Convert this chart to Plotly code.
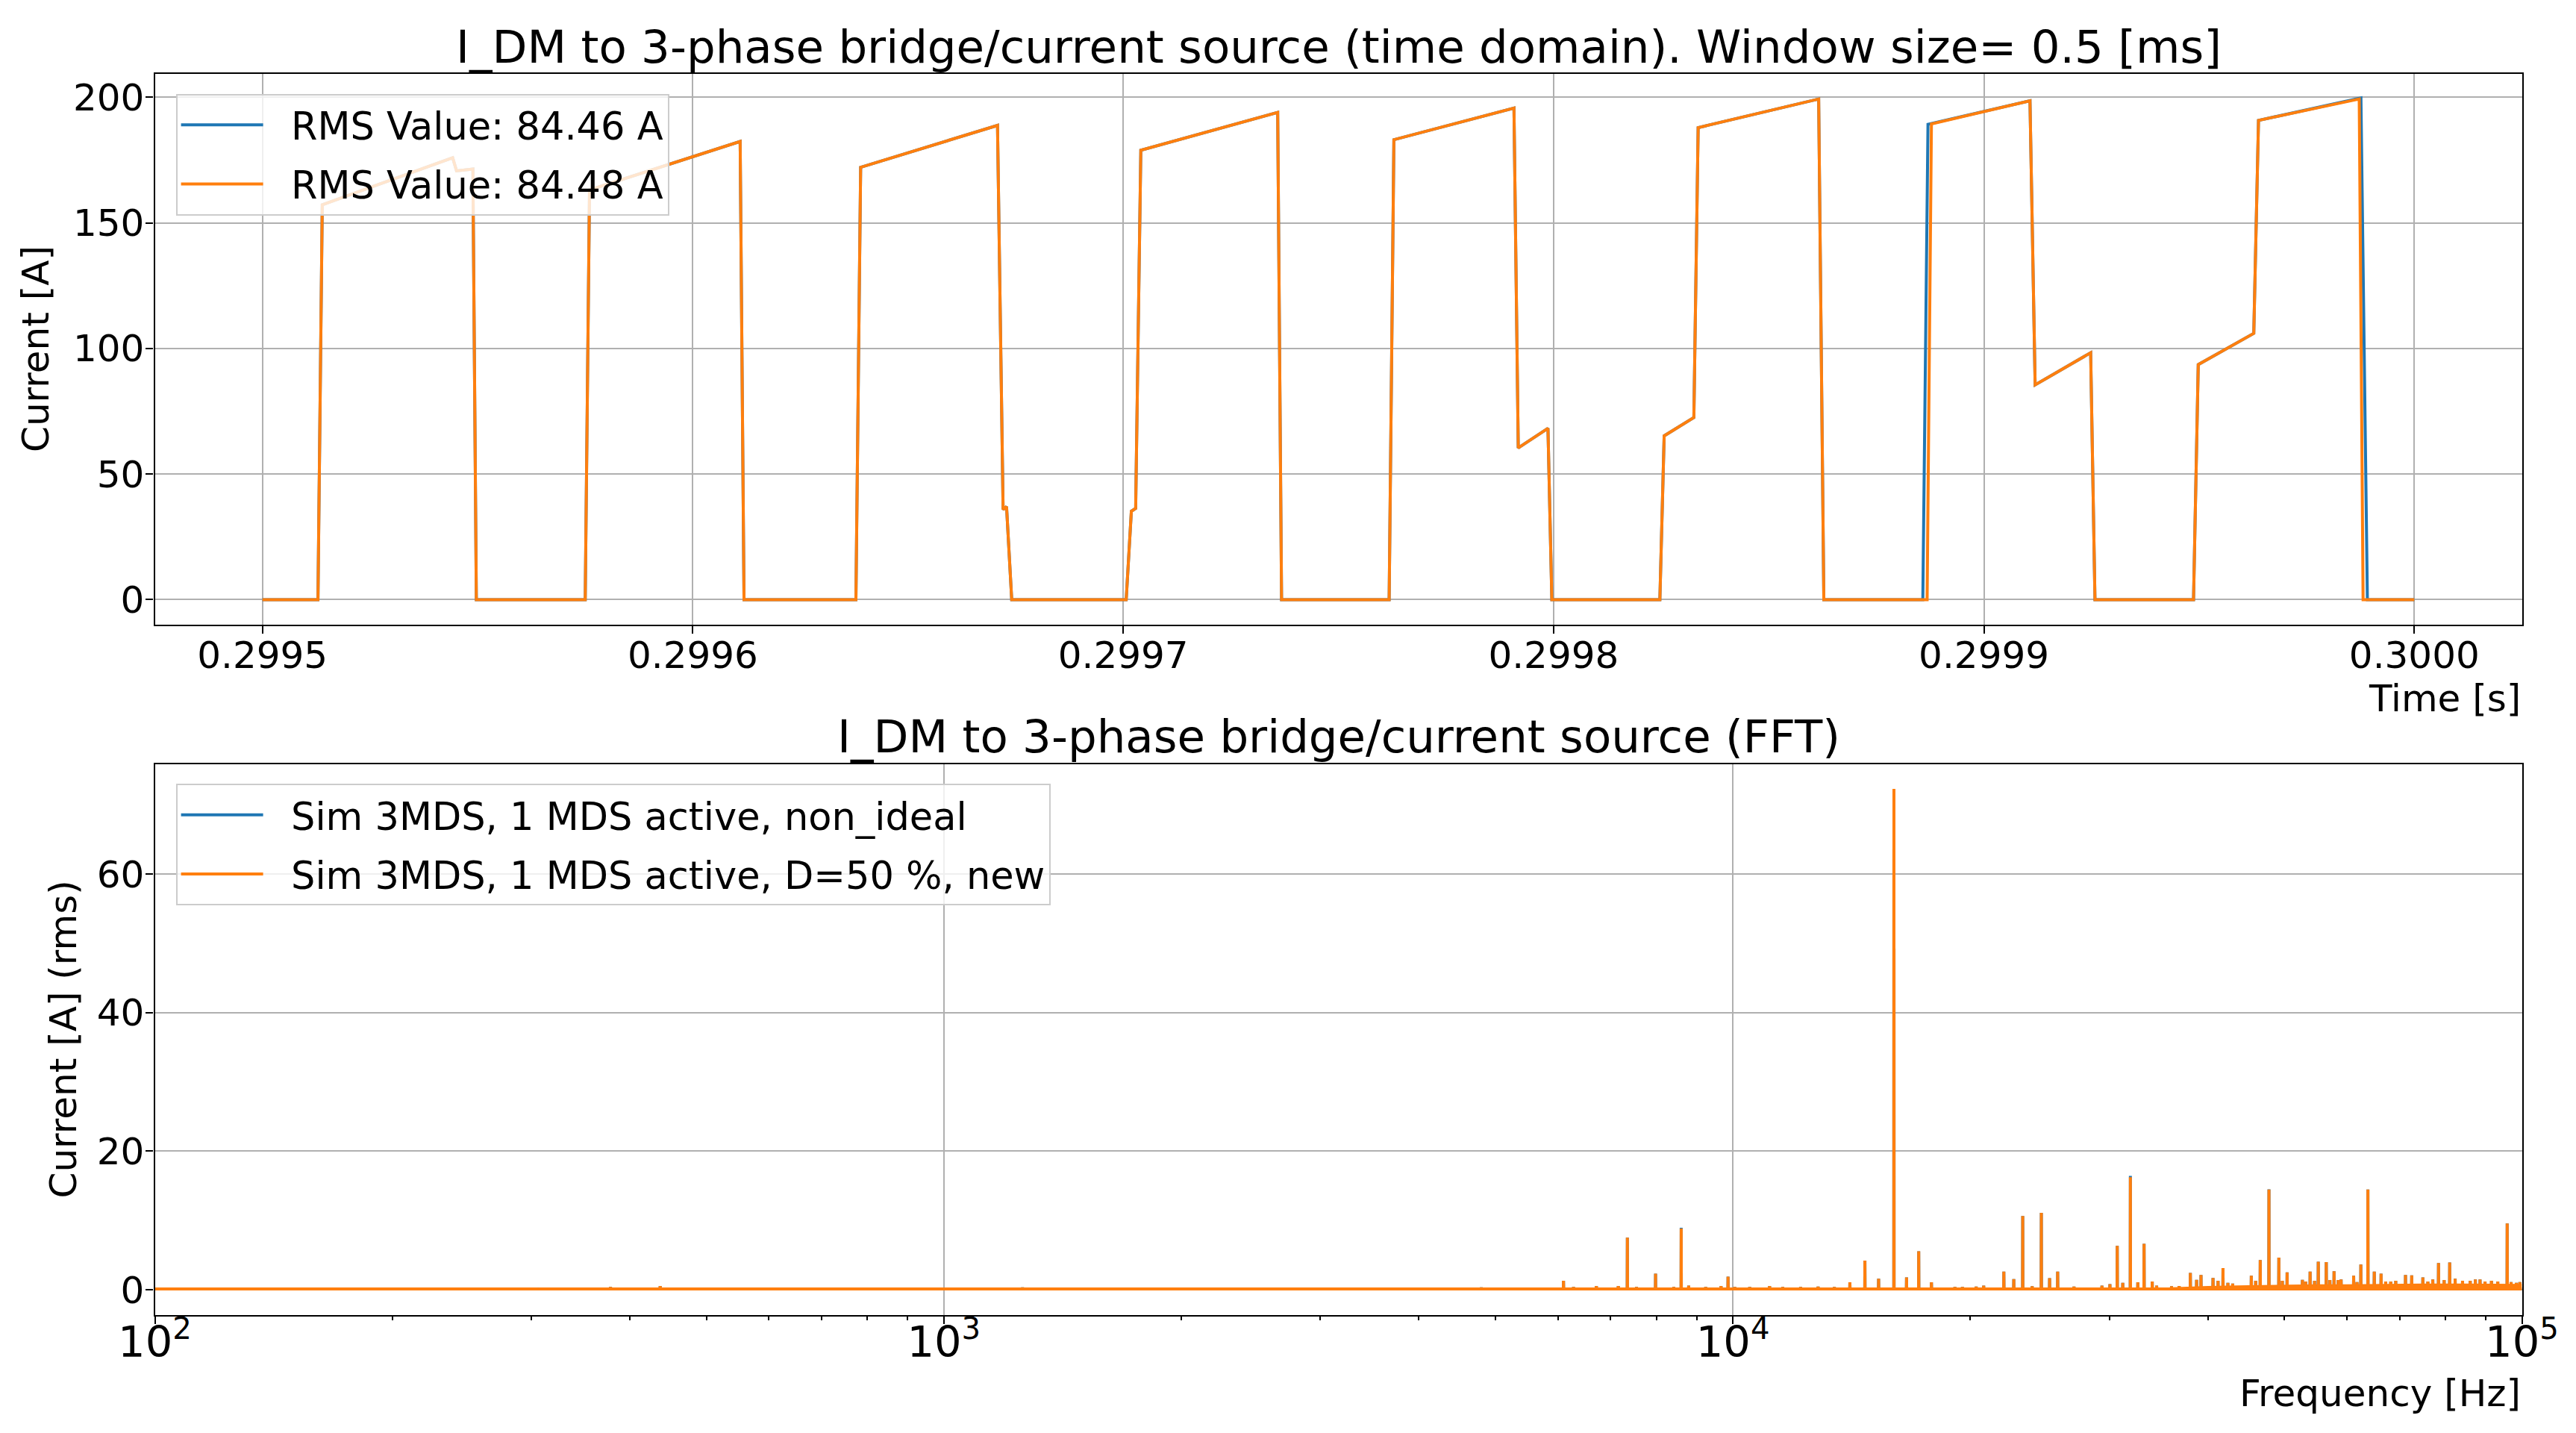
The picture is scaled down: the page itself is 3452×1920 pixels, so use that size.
import plotly.graph_objects as go

# ---------------- time-domain data ----------------
t_new_s = [0.2995000, 0.2995129, 0.2995139, 0.2995442, 0.2995451, 0.2995489, 0.2995497,
           0.2995750, 0.2995760, 0.2996110, 0.2996119,
           0.2996379, 0.2996390, 0.2996708, 0.2996721, 0.2996729, 0.2996741,
           0.2997007, 0.2997019, 0.2997029, 0.2997041, 0.2997359, 0.2997368,
           0.2997618, 0.2997629, 0.2997908, 0.2997918, 0.2997987, 0.2997996,
           0.2998247, 0.2998257, 0.2998326, 0.2998336, 0.2998616, 0.2998628,
           0.2998868, 0.2998878, 0.2999107, 0.2999119, 0.2999248, 0.2999258,
           0.2999487, 0.2999498, 0.2999627, 0.2999638, 0.2999872, 0.2999881,
           0.3000000]
i_new_a = [0, 0, 157.2, 175.9, 170.7, 171.4, 0,
           0, 163.1, 182.4, 0,
           0, 172.1, 188.8, 35.9, 37.0, 0,
           0, 35.2, 36.3, 178.9, 194.0, 0,
           0, 183.1, 195.7, 60.4, 68.2, 0,
           0, 65.2, 72.5, 187.9, 199.3, 0,
           0, 189.4, 198.6, 85.5, 98.3, 0,
           0, 93.6, 106.0, 190.8, 199.3, 0,
           0]

t_nonideal_s = [0.2995000, 0.2995129, 0.2995139, 0.2995442, 0.2995451, 0.2995489, 0.2995497,
                0.2995750, 0.2995760, 0.2996110, 0.2996119,
                0.2996379, 0.2996390, 0.2996708, 0.2996721, 0.2996729, 0.2996741,
                0.2997007, 0.2997019, 0.2997029, 0.2997041, 0.2997359, 0.2997368,
                0.2997618, 0.2997629, 0.2997908, 0.2997918, 0.2997987, 0.2997996,
                0.2998247, 0.2998257, 0.2998326, 0.2998336, 0.2998616, 0.2998628,
                0.2998858, 0.2998870, 0.2999107, 0.2999119, 0.2999248, 0.2999258,
                0.2999487, 0.2999498, 0.2999627, 0.2999638, 0.2999876, 0.2999891,
                0.3000000]
i_nonideal_a = [0, 0, 157.2, 175.9, 170.7, 171.4, 0,
                0, 163.1, 182.4, 0,
                0, 172.1, 188.8, 35.9, 37.0, 0,
                0, 35.2, 36.3, 178.9, 194.0, 0,
                0, 183.1, 195.7, 60.4, 68.2, 0,
                0, 65.2, 72.5, 187.9, 199.3, 0,
                0, 189.2, 198.6, 85.5, 98.3, 0,
                0, 93.6, 106.0, 190.8, 199.7, 0,
                0]

legend_time = ["RMS Value: 84.46 A", "RMS Value: 84.48 A"]

# ---------------- FFT data ----------------
spike_freq_hz = [306, 378, 437, 1258, 1323, 2127, 2566, 3133, 3784, 4238, 4799,
                 6100, 6281, 6714, 7158, 7350, 7548, 7980, 8416, 8600, 8790, 9238, 9660, 9860,
                 10055, 10503, 11130, 11566, 12186, 12823, 13446, 14070, 14700, 15300, 16000,
                 16600, 17200, 17850, 19117, 19540, 20340, 20790, 22050, 22700, 23300, 23950,
                 24600, 25200, 25800, 27060, 29360, 30050, 30700, 31200, 31900, 32600, 33200,
                 34000, 34440, 35970, 36780, 38000, 38700, 39200, 40600, 41200, 41800, 42400,
                 43000, 45400, 45980, 46600, 47800, 49200, 49700, 50400, 52700, 53200, 53900,
                 54600, 55200, 56500, 57100, 57800, 58500, 59000, 61200, 61800, 62500, 63800,
                 65000, 66300, 67200, 68200, 69200, 71200, 72500, 74900, 76000, 77100, 78400,
                 79700, 81000, 82300, 84100, 86000, 87300, 88500, 89800, 91500, 93200, 95800,
                 96900, 98400, 99400]
spike_amp_new = [0.25, 0.40, 0.55, 0.35, 0.30, 0.30, 0.30, 0.30, 0.30, 0.30, 0.35,
                 1.31, 0.40, 0.55, 0.55, 7.53, 0.40, 2.32, 0.40, 8.85, 0.60, 0.40, 0.55, 1.89,
                 0.40, 0.40, 0.55, 0.40, 0.40, 0.45, 0.40, 1.07, 4.22, 1.60, 72.3,
                 1.78, 5.55, 1.07, 0.40, 0.40, 0.45, 0.60, 2.61, 1.53, 10.65, 0.50,
                 11.10, 1.67, 2.61, 0.45, 0.60, 0.80, 6.34, 1.00, 16.25, 1.07, 6.63,
                 1.18, 0.60, 0.50, 0.55, 2.43, 1.43, 2.14, 1.71, 1.30, 3.14, 1.00,
                 0.90, 2.03, 1.30, 4.30, 14.46, 4.65, 1.30, 2.50, 1.43, 1.20, 2.61,
                 1.30, 4.04, 4.00, 1.40, 2.68, 1.40, 1.50, 2.03, 1.10, 3.65, 14.46,
                 2.61, 2.33, 1.20, 1.20, 1.30, 2.14, 2.07, 1.78, 1.20, 1.50, 3.87,
                 1.40, 3.94, 1.60, 1.30, 1.30, 1.50, 1.50, 1.20, 1.30, 1.20, 9.58,
                 1.10, 1.00, 1.10]
spike_amp_nonideal = [0.25, 0.40, 0.55, 0.35, 0.30, 0.30, 0.30, 0.30, 0.30, 0.30, 0.35,
                      1.31, 0.40, 0.55, 0.55, 7.53, 0.40, 2.32, 0.40, 8.95, 0.60, 0.40, 0.55, 1.89,
                      0.40, 0.40, 0.55, 0.40, 0.40, 0.45, 0.40, 1.07, 4.22, 1.60, 72.3,
                      1.78, 5.55, 1.07, 0.40, 0.40, 0.45, 0.60, 2.61, 1.53, 10.65, 0.50,
                      11.10, 1.67, 2.61, 0.45, 0.60, 0.80, 6.34, 1.00, 16.45, 1.07, 6.63,
                      1.18, 0.60, 0.50, 0.55, 2.43, 1.43, 2.14, 1.71, 1.30, 3.14, 1.00,
                      0.90, 2.03, 1.30, 4.30, 14.50, 4.65, 1.30, 2.50, 1.43, 1.20, 2.61,
                      1.30, 4.04, 4.00, 1.40, 2.68, 1.40, 1.50, 2.03, 1.10, 3.65, 14.46,
                      2.61, 2.33, 1.20, 1.20, 1.30, 2.14, 2.07, 1.78, 1.20, 1.50, 3.87,
                      1.40, 3.94, 1.60, 1.30, 1.30, 1.50, 1.50, 1.20, 1.30, 1.20, 9.58,
                      1.10, 1.00, 1.10]
fft_floor_a = 0.12
band_freq_hz = [36000, 40000, 45000, 50000, 55000, 60000, 65000, 70000, 75000, 80000,
                85000, 90000, 95000, 100000]
band_amp_a = [0.35, 0.55, 0.65, 0.75, 0.8, 0.8, 0.85, 0.9, 0.9, 0.9, 0.9, 0.9, 0.85, 0.85]
legend_fft = ["Sim 3MDS, 1 MDS active, non_ideal", "Sim 3MDS, 1 MDS active, D=50 %, new"]

# ---------------- styling ----------------
W, H = 3452, 1920
BLUE, ORANGE = "#1f77b4", "#ff7f0e"
FONT = "DejaVu Sans"
LW = 4
X0, X1 = 207.5 / W, 3379.5 / W
Y_TOP = [1 - 837 / H, 1 - 99 / H]
Y_BOT = [1 - 1761.5 / H, 1 - 1023.5 / H]
GAP = "\u00a0\u00a0"  # visual gap between legend line and label


def spectrum(freqs, amps, floor):
    xs, ys = [100.0], [floor]
    for f, a in zip(freqs, amps):
        xs += [f * 0.9996, f, f * 1.0004]
        ys += [floor, a, floor]
    xs.append(100000.0)
    ys.append(floor)
    return xs, ys


fig = go.Figure()
fig.add_trace(go.Scatter(x=t_nonideal_s, y=i_nonideal_a, mode="lines", name=GAP + legend_time[0],
                         line=dict(color=BLUE, width=LW), xaxis="x", yaxis="y",
                         legend="legend", legendgroup="a"))
fig.add_trace(go.Scatter(x=t_new_s, y=i_new_a, mode="lines", name=GAP + legend_time[1],
                         line=dict(color=ORANGE, width=LW), xaxis="x", yaxis="y",
                         legend="legend", legendgroup="b"))

bx, by = spectrum(spike_freq_hz, spike_amp_nonideal, fft_floor_a)
fig.add_trace(go.Scatter(x=bx, y=by, mode="lines", name=GAP + legend_fft[0],
                         line=dict(color=BLUE, width=LW), xaxis="x2", yaxis="y2",
                         legend="legend2", legendgroup="c"))
fig.add_trace(go.Scatter(x=band_freq_hz, y=band_amp_a, mode="lines", fill="tozeroy",
                         fillcolor=ORANGE, line=dict(color=ORANGE, width=0),
                         showlegend=False, xaxis="x2", yaxis="y2", hoverinfo="skip"))
ox, oy = spectrum(spike_freq_hz, spike_amp_new, fft_floor_a)
fig.add_trace(go.Scatter(x=ox, y=oy, mode="lines", name=GAP + legend_fft[1],
                         line=dict(color=ORANGE, width=LW), xaxis="x2", yaxis="y2",
                         legend="legend2", legendgroup="d"))

axis_common = dict(showline=True, mirror=True, linecolor="black", linewidth=2.2,
                   ticks="outside", ticklen=10, tickwidth=2.2, tickcolor="black",
                   showgrid=True, gridcolor="#b0b0b0", gridwidth=2.2, zeroline=False,
                   automargin=False)

legend_common = dict(bgcolor="rgba(255,255,255,0.8)", bordercolor="#cccccc", borderwidth=2,
                     font=dict(family=FONT, size=51, color="black"), xanchor="left",
                     yanchor="top", tracegroupgap=10, itemwidth=110)

tickfont = dict(family=FONT, size=50, color="black")

fig.update_layout(
    width=W, height=H, margin=dict(l=0, r=0, t=0, b=0, autoexpand=False),
    paper_bgcolor="white", plot_bgcolor="white",
    font=dict(family=FONT, size=50, color="black"),
    xaxis=dict(domain=[X0, X1], anchor="y", range=[0.299475, 0.300025],
               tick0=0.2995, dtick=0.0001, tickformat=".4f", tickfont=tickfont,
               ticklabelstandoff=-14, **axis_common),
    yaxis=dict(domain=Y_TOP, anchor="x", range=[-9.97, 209.3], tick0=0, dtick=50,
               tickfont=tickfont, ticklabelstandoff=-8, **axis_common),
    xaxis2=dict(domain=[X0, X1], anchor="y2", type="log", range=[2, 5], dtick=1,
                exponentformat="power", showexponent="all",
                tickfont=dict(family=FONT, size=46, color="black"), ticklabelstandoff=-22,
                minor=dict(ticks="outside", ticklen=5.5, tickwidth=1.6, tickcolor="black",
                           showgrid=False),
                **axis_common),
    yaxis2=dict(domain=Y_BOT, anchor="x2", range=[-3.6, 75.9], tick0=0, dtick=20,
                tickfont=tickfont, ticklabelstandoff=-8, **axis_common),
    legend=dict(x=235.6 / W, y=1 - 125.5 / H, **legend_common),
    legend2=dict(x=235.6 / W, y=1 - 1050 / H, **legend_common),
    showlegend=True,
)

annots = [
    dict(text="I_DM to 3-phase bridge/current source (time domain). Window size= 0.5 [ms]",
         x=(X0 + X1) / 2, y=1 - 62 / H, size=61, xanchor="center", yanchor="middle"),
    dict(text="I_DM to 3-phase bridge/current source (FFT)",
         x=(X0 + X1) / 2, y=1 - 986 / H, size=61, xanchor="center", yanchor="middle"),
    dict(text="Time [s]", x=X1, y=1 - 936 / H, xanchor="right", yanchor="middle"),
    dict(text="Frequency [Hz]", x=X1, y=1 - 1867 / H, xanchor="right", yanchor="middle"),
    dict(text="Current [A]", x=48 / W, y=(Y_TOP[0] + Y_TOP[1]) / 2, textangle=-90,
         xanchor="center", yanchor="middle"),
    dict(text="Current [A] (rms)", x=84 / W, y=(Y_BOT[0] + Y_BOT[1]) / 2, textangle=-90,
         xanchor="center", yanchor="middle"),
]
for a in annots:
    size = a.pop("size", 50)
    a.update(xref="paper", yref="paper", showarrow=False,
             font=dict(family=FONT, color="black", size=size))
fig.update_layout(annotations=annots)

fig.write_html("out.html", config={"displayModeBar": False},
               post_script="document.body.style.margin='0';")
